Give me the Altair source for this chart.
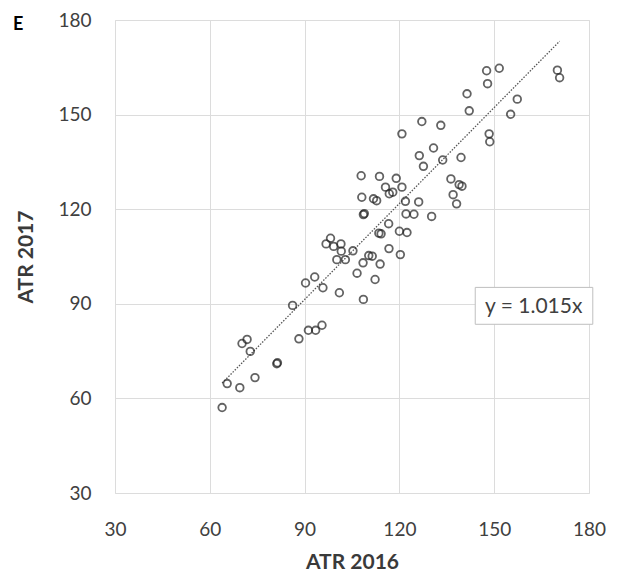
import altair as alt
import pandas as pd

atr_2016 = [63.9, 65.5, 69.5, 70.2, 71.8, 72.8, 74.3, 81.2, 81.4, 86.2,
            88.2, 91.2, 93.5, 95.5, 90.3, 93.2, 95.8, 101.0, 96.8, 98.2,
            99.2, 101.5, 101.6, 100.2, 102.9, 105.3, 106.6, 108.5, 110.3, 111.4,
            113.9, 112.3, 108.6, 108.6, 108.9, 107.9, 113.7, 119.0, 115.6, 120.8,
            116.8, 117.9, 108.1, 111.8, 112.8, 121.9, 126.1, 122.1, 124.6, 130.2,
            116.6, 113.5, 114.2, 120.0, 122.4, 116.7, 120.3, 120.8, 127.1, 133.1,
            126.3, 127.6, 130.8, 133.7, 139.5, 136.3, 138.9, 139.8, 137.0, 138.1,
            141.4, 142.1, 147.6, 151.6, 147.9, 148.4, 148.6, 157.3, 155.2, 170.0,
            170.7]
atr_2017 = [57.1, 64.7, 63.4, 77.4, 78.7, 74.9, 66.6, 71.0, 71.3, 89.5,
            78.9, 81.6, 81.6, 83.2, 96.6, 98.5, 95.1, 93.5, 109.0, 110.8,
            108.2, 109.0, 106.7, 104.0, 104.0, 106.8, 99.7, 103.0, 105.3, 105.1,
            102.6, 97.7, 91.4, 118.3, 118.6, 130.6, 130.4, 129.8, 127.0, 127.0,
            124.9, 125.4, 123.8, 123.3, 122.7, 122.5, 122.3, 118.5, 118.4, 117.7,
            115.4, 112.4, 112.2, 113.0, 112.6, 107.5, 105.6, 143.9, 147.8, 146.6,
            137.0, 133.6, 139.4, 135.6, 136.4, 129.6, 127.8, 127.3, 124.6, 121.7,
            156.6, 151.2, 163.9, 164.7, 159.8, 143.9, 141.4, 154.9, 150.1, 164.1,
            161.7]

slope = 1.015
axis_ticks = [30, 60, 90, 120, 150, 180]
equation_label = "y = 1.015x"
label_pos = {"x": 162.5, "y": 88.9, "x1": 144.0, "x2": 181.2, "y1": 83.5, "y2": 95.2}

FONT = "Lato"

df = pd.DataFrame({"x": atr_2016, "y": atr_2017})
xmin, xmax = min(atr_2016), max(atr_2016)
trend = pd.DataFrame({"x": [xmin, xmax], "y": [slope * xmin, slope * xmax]})

xscale = alt.Scale(domain=[30, 180], nice=False, zero=False)
yscale = alt.Scale(domain=[30, 180], nice=False, zero=False)

xaxis = alt.Axis(values=axis_ticks, title="ATR 2016", grid=True, gridColor="#dcdcdc",
                 gridWidth=1, domain=False, ticks=False, labelFontSize=19,
                 labelColor="#404040", labelPadding=27, labelFont=FONT,
                 labelFlush=False, labelOverlap=False,
                 titleFont=FONT, titleFontSize=21, titleFontWeight="bold",
                 titleColor="#3a3a3a", titlePadding=12)
yaxis = alt.Axis(values=axis_ticks, title="ATR 2017", grid=True, gridColor="#dcdcdc",
                 gridWidth=1, domain=False, ticks=False, labelFontSize=19,
                 labelColor="#404040", labelPadding=24, labelFont=FONT,
                 labelFlush=False, labelOverlap=False,
                 titleFont=FONT, titleFontSize=21, titleFontWeight="bold",
                 titleColor="#3a3a3a", titlePadding=21)

points = alt.Chart(df).mark_point(shape="circle", filled=False, size=58,
                                  strokeWidth=1.8, color="#222222").encode(
    x=alt.X("x:Q", scale=xscale, axis=xaxis),
    y=alt.Y("y:Q", scale=yscale, axis=yaxis),
)

line = alt.Chart(trend).mark_line(color="#555555", strokeWidth=1.3,
                                  strokeDash=[1.5, 1.5]).encode(
    x=alt.X("x:Q", scale=xscale),
    y=alt.Y("y:Q", scale=yscale),
)

box_df = pd.DataFrame([label_pos | {"label": equation_label}])
box = alt.Chart(box_df).mark_rect(fill="white", stroke="#bfbfbf", strokeWidth=1).encode(
    x=alt.X("x1:Q", scale=xscale), x2="x2:Q",
    y=alt.Y("y1:Q", scale=yscale), y2="y2:Q",
)
text = alt.Chart(box_df).mark_text(font=FONT, fontSize=21, color="#404040").encode(
    x=alt.X("x:Q", scale=xscale),
    y=alt.Y("y:Q", scale=yscale),
    text="label:N",
)

panel_df = pd.DataFrame({"t": ["E"]})
panel = alt.Chart(panel_df).mark_text(font=FONT, fontSize=18, fontWeight="bold",
                                      color="#000000", align="left",
                                      baseline="middle").encode(
    x=alt.value(-102), y=alt.value(5), text="t:N"
)

chart = alt.layer(line, points, box, text, panel).properties(
    width=474, height=473,
    autosize=alt.AutoSizeParams(type="none"),
    padding={"left": 107, "top": 12, "right": 20, "bottom": 90},
).configure_view(stroke=None).configure(background="white")

chart.save("out.html", embed_options={"renderer": "svg", "actions": False})
